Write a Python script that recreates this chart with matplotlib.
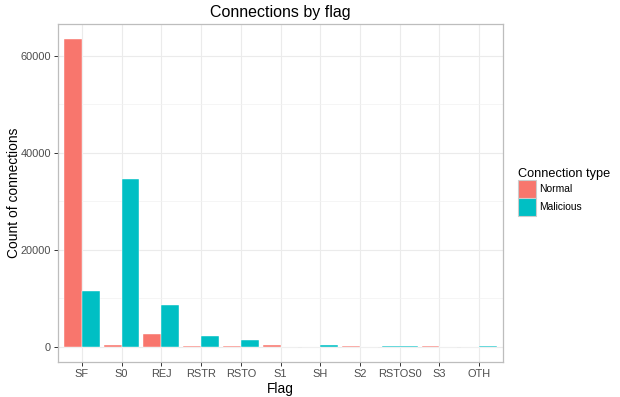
import numpy as np
import matplotlib
matplotlib.use("Agg")
import matplotlib.pyplot as plt
from matplotlib.patches import Patch

plt.rcParams['font.family'] = ['Liberation Sans', 'DejaVu Sans']

flags = ["SF", "S0", "REJ", "RSTR", "RSTO", "S1", "SH", "S2", "RSTOS0", "S3", "OTH"]
normal = [63393, 354, 2693, 146, 219, 361, 2, 119, np.nan, 45, 2]
malicious = [11552, 34497, 8540, 2275, 1343, 4, 269, 8, 103, 4, 44]
series_names = ["Normal", "Malicious"]
colors = ["#F8766D", "#00BFC4"]

fig = plt.figure(figsize=(6.2, 3.97), dpi=100)
ax = fig.add_axes([58/620, 1-362/397, (503-58)/620, (362-24)/397])

x = np.arange(len(flags))
width = 0.9
for i in range(len(flags)):
    vals = [normal[i], malicious[i]]
    present = [j for j, v in enumerate(vals) if not np.isnan(v)]
    n = len(present)
    w = width / n
    for k, j in enumerate(present):
        left = x[i] - width/2 + k*w
        ax.bar(left, vals[j], width=w, align='edge', color=colors[j],
               edgecolor='white', linewidth=0.3, zorder=3)

ymax = np.nanmax(normal + malicious)
ax.set_xlim(-0.6, len(flags) - 0.4)
ax.set_ylim(-0.05*ymax, 1.05*ymax)
ax.set_xticks(x)
ax.set_xticklabels(flags)
ax.set_yticks([0, 20000, 40000, 60000])
ax.set_yticks([10000, 30000, 50000], minor=True)

ax.grid(True, which='major', color='#EBEBEB', linewidth=0.8, zorder=0)
ax.grid(True, which='minor', axis='y', color='#F2F2F2', linewidth=0.5, zorder=0)
ax.set_axisbelow(True)
for s in ax.spines.values():
    s.set_color('#BDBDBD')
    s.set_linewidth(0.9)
ax.tick_params(axis='both', which='major', length=3, width=0.7, color='#333333',
               labelsize=7.9, labelcolor='#4D4D4D', pad=2)
ax.tick_params(axis='y', which='minor', length=0)

ax.set_xlabel("Flag", fontsize=9.9, labelpad=2)
ax.set_ylabel("Count of connections", fontsize=9.9)
ax.yaxis.label.set_va('center')
ax.yaxis.set_label_coords((14-58)/445, 0.5)
ax.set_title("Connections by flag", fontsize=11.5, pad=5)

handles = [Patch(facecolor=c, edgecolor='#CCCCCC', linewidth=0.8) for c in colors]
leg = fig.legend(handles, series_names, loc='upper left',
                 bbox_to_anchor=(511/620, 1-161/397), frameon=False,
                 fontsize=7.4, title="Connection type", title_fontsize=9.2,
                 handlelength=1.75, handleheight=2.3, handletextpad=0.3,
                 labelspacing=0.0, borderpad=0.2)
leg._legend_box.align = "left"

fig.savefig("out.png", dpi=100)
